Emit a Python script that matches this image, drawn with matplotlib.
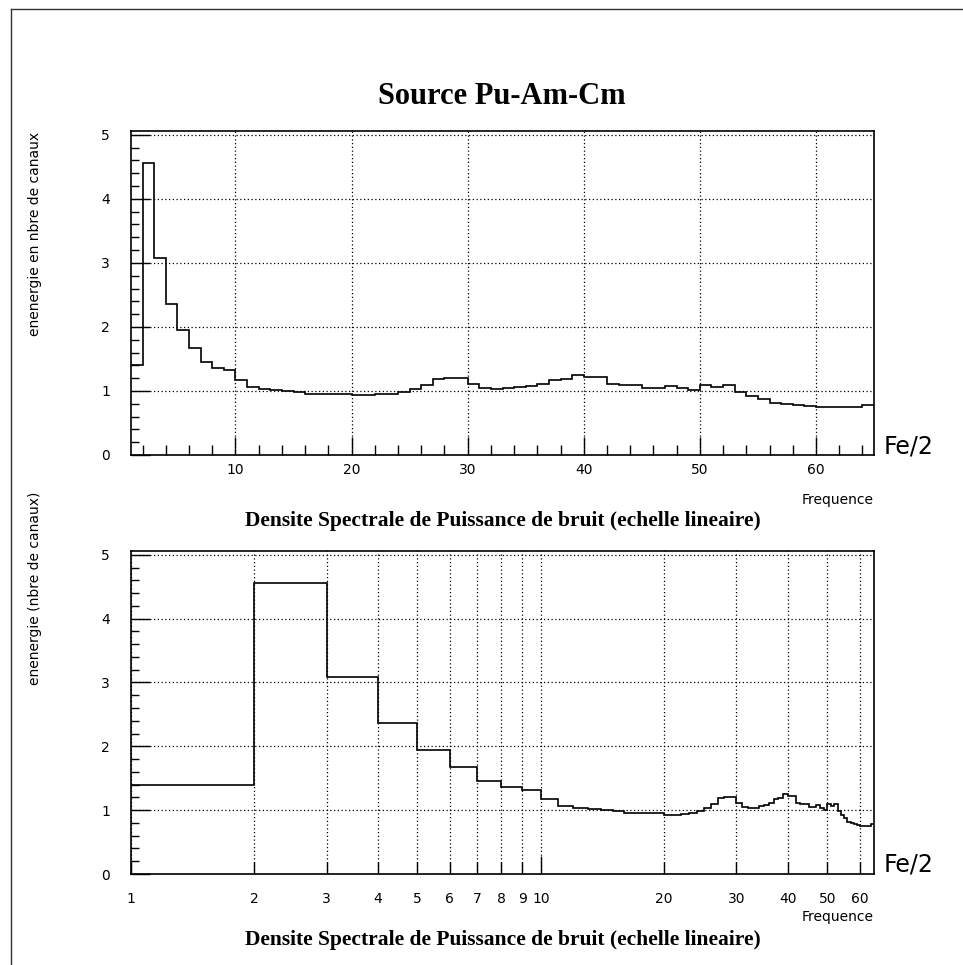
import numpy as np
import matplotlib
matplotlib.use("Agg")
import matplotlib.pyplot as plt
from matplotlib.lines import Line2D
from matplotlib.ticker import FixedLocator, FixedFormatter, NullFormatter

# densite spectrale, 64 canaux (bins de largeur 1, de 1 a 65)
bin_edges = np.arange(1, 66)
energie = [1.40, 4.56, 3.08, 2.36, 1.95, 1.67, 1.45, 1.36, 1.32, 1.17,
           1.06, 1.03, 1.015, 1.005, 0.98, 0.96, 0.95, 0.95, 0.95, 0.93,
           0.93, 0.945, 0.96, 0.99, 1.03, 1.09, 1.19, 1.21, 1.20, 1.11,
           1.05, 1.03, 1.04, 1.06, 1.08, 1.11, 1.17, 1.19, 1.25, 1.22,
           1.22, 1.11, 1.09, 1.09, 1.05, 1.05, 1.08, 1.04, 1.01, 1.09,
           1.06, 1.09, 0.98, 0.92, 0.88, 0.81, 0.80, 0.78, 0.76, 0.75,
           0.75, 0.745, 0.75, 0.78]

titre = "Source Pu-Am-Cm"
sous_titre = "Densite Spectrale de Puissance de bruit (echelle lineaire)"
ylabel_lin = "enenergie en nbre de canaux"
ylabel_log = "enenergie (nbre de canaux)"
yticks = [0, 1, 2, 3, 4, 5]
xticks_lin = [10, 20, 30, 40, 50, 60]
xticks_log = [1, 2, 3, 4, 5, 6, 7, 8, 9, 10, 20, 30, 40, 50, 60]

W, H = 963, 965
fig = plt.figure(figsize=(W / 100, H / 100), dpi=100)
sans = "DejaVu Sans"
serif = "Liberation Serif"

def fx(px):
    return px / W

def fy(py):
    return 1 - py / H

grid_kw = dict(color="black", linestyle=(0, (1, 2)), linewidth=0.9)

def common(ax):
    ax.set_ylim(0, 5.06)
    ax.set_xlim(1, 65)
    for s in ax.spines.values():
        s.set_linewidth(1.2)
    ax.yaxis.set_major_locator(FixedLocator(yticks))
    ax.yaxis.set_minor_locator(FixedLocator(np.arange(0, 5.01, 0.2)))
    ax.yaxis.set_minor_formatter(NullFormatter())
    ax.tick_params(axis="y", which="major", direction="in", length=14, width=1, pad=15, labelsize=10)
    ax.tick_params(axis="y", which="minor", direction="in", length=6, width=1)
    ax.tick_params(top=False, right=False)
    ax.grid(True, which="major", axis="y", **grid_kw)
    ax.stairs(energie, bin_edges, color="black", linewidth=1.2, baseline=None)
    for lab in ax.get_yticklabels():
        lab.set_family(sans)

# --- haut : echelle lineaire
ax1 = fig.add_axes([fx(131), fy(455), fx(874 - 131), (455 - 131) / H])
common(ax1)
ax1.xaxis.set_major_locator(FixedLocator(xticks_lin))
ax1.xaxis.set_minor_locator(FixedLocator(np.arange(2, 65, 2)))
ax1.tick_params(axis="x", which="major", direction="in", length=13, width=1, pad=6, labelsize=10)
ax1.tick_params(axis="x", which="minor", direction="in", length=7, width=1)
ax1.grid(True, which="major", axis="x", **grid_kw)

# --- bas : echelle log
ax2 = fig.add_axes([fx(131), fy(874), fx(874 - 131), (874 - 551) / H])
ax2.set_xscale("log")
common(ax2)
ax2.xaxis.set_major_locator(FixedLocator([10]))
ax2.xaxis.set_major_formatter(FixedFormatter(["10"]))
minor_pos = [v for v in xticks_log if v != 10]
ax2.xaxis.set_minor_locator(FixedLocator(minor_pos))
ax2.xaxis.set_minor_formatter(FixedFormatter([str(v) for v in minor_pos]))
ax2.tick_params(axis="x", which="major", direction="in", length=13, width=1, pad=13, labelsize=10)
ax2.tick_params(axis="x", which="minor", direction="in", length=9, width=1, pad=13, labelsize=10)
ax2.grid(True, which="both", axis="x", **grid_kw)
ax2.set_xlim(1, 65)

# textes
fig.text(fx(502), fy(97), titre, ha="center", va="center", family=serif,
         fontweight="bold", fontsize=22)
fig.text(fx(503), fy(521), sous_titre, ha="center", va="center", family=serif,
         fontweight="bold", fontsize=15.5)
fig.text(fx(503), fy(940), sous_titre, ha="center", va="center", family=serif,
         fontweight="bold", fontsize=15.5)
fig.text(fx(874), fy(500), "Frequence", ha="right", va="center", family=sans, fontsize=10)
fig.text(fx(874), fy(917), "Frequence", ha="right", va="center", family=sans, fontsize=10)
fig.text(fx(884), fy(446), "Fe/2", ha="left", va="center", family=sans, fontsize=17)
fig.text(fx(884), fy(865), "Fe/2", ha="left", va="center", family=sans, fontsize=17)
fig.text(fx(35), fy(132), ylabel_lin, ha="center", va="top", rotation=90,
         family=sans, fontsize=10)
fig.text(fx(35), fy(492), ylabel_log, ha="center", va="top", rotation=90,
         family=sans, fontsize=10)

# cadre
fig.add_artist(Line2D([fx(11), fx(11)], [0, fy(9)], transform=fig.transFigure,
                      color="#333333", linewidth=1))
fig.add_artist(Line2D([fx(11), 1], [fy(9), fy(9)], transform=fig.transFigure,
                      color="#333333", linewidth=1))

fig.savefig("out.png", dpi=100)
